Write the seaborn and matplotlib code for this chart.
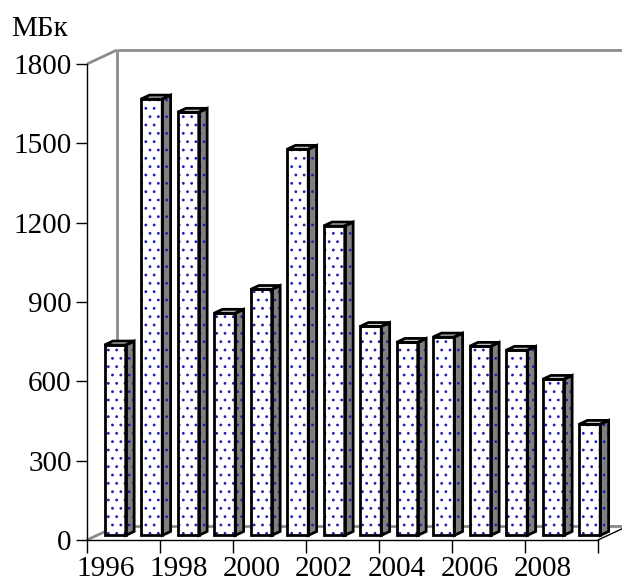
import numpy as np
import pandas as pd
import matplotlib
matplotlib.use("Agg")
import matplotlib.pyplot as plt
import seaborn as sns
from matplotlib.patches import Polygon, Rectangle
from matplotlib.lines import Line2D

# ---- data ----
years = [str(y) for y in range(1996, 2010)]
values = [720, 1650, 1600, 840, 930, 1460, 1170, 790, 730, 750, 715, 700, 590, 420]
y_ticks = [0, 300, 600, 900, 1200, 1500, 1800]
x_tick_labels = ["1996", "1998", "2000", "2002", "2004", "2006", "2008"]
unit_label = "МБк"

sns.set_theme(style="white")
plt.rcParams["font.family"] = ["Liberation Serif", "DejaVu Serif"]
plt.rcParams["hatch.linewidth"] = 0.8
plt.rcParams["hatch.color"] = "#2020b0"

W, H, DPI = 622, 588, 100
fig = plt.figure(figsize=(W / DPI, H / DPI), dpi=DPI)
L, R, B, T = 87, 598, 540, 64
ax = fig.add_axes([L / W, 1 - B / H, (R - L) / W, (B - T) / H])

df = pd.DataFrame({"year": years, "value": values})
sns.barplot(data=df, x="year", y="value", order=years, color="white",
            saturation=1, edgecolor="#2020b0", linewidth=0, hatch="..",
            width=0.58, ax=ax, zorder=3)

ax.set_xlim(-0.5, len(years) - 0.5)
ax.set_ylim(0, 1800)

# pixel -> data conversion for depth
px_x = (R - L) / len(years)
px_y = (B - T) / 1800.0
DX, DY = 30 / px_x, 14 / px_y          # full depth of the 3D box
f_front = 0.33                          # bar front plane depth fraction
bdx, bdy = 0.28 * DX, 0.28 * DY         # bar depth

wall = "#8c8c8c"
x0w, x1w = -0.5, len(years) - 0.5
kw = dict(color=wall, lw=2, zorder=0.5, clip_on=False, solid_capstyle="butt")
ax.add_line(Line2D([x0w + DX, x0w + DX], [DY, 1800 + DY], **kw))
ax.add_line(Line2D([x0w + DX, x1w + DX], [1800 + DY, 1800 + DY], **kw))
ax.add_line(Line2D([x0w + DX, x1w + DX], [DY, DY], **kw))
ax.add_line(Line2D([x0w, x0w + DX], [1800, 1800 + DY], **kw))
ax.add_line(Line2D([x0w, x0w + DX], [0, DY], **kw))
ax.add_line(Line2D([x1w, x1w + DX], [0, DY], color="black", lw=1,
                   zorder=0.6, clip_on=False))

# 3D bar faces built from seaborn's bars
for p in list(ax.patches):
    x0 = p.get_x() + f_front * DX
    y0 = f_front * DY
    w = p.get_width()
    h = p.get_height()
    p.set_x(x0)
    p.set_y(y0)
    p.set_clip_on(False)
    side = [(x0 + w, y0), (x0 + w + bdx, y0 + bdy),
            (x0 + w + bdx, y0 + h + bdy), (x0 + w, y0 + h)]
    top = [(x0, y0 + h), (x0 + w, y0 + h),
           (x0 + w + bdx, y0 + h + bdy), (x0 + bdx, y0 + h + bdy)]
    ax.add_patch(Polygon(side, closed=True, facecolor="#808080",
                         edgecolor="#2020b0", lw=0, hatch="..", zorder=3,
                         clip_on=False))
    ax.add_patch(Polygon(top, closed=True, facecolor="#d0d0d0",
                         edgecolor="none", zorder=3, clip_on=False))
    for poly in (side, top):
        ax.add_patch(Polygon(poly, closed=True, fill=False, edgecolor="black",
                             lw=2, joinstyle="miter", zorder=4, clip_on=False))
    ax.add_patch(Rectangle((x0, y0), w, h, fill=False, edgecolor="black",
                           lw=2, joinstyle="miter", zorder=4, clip_on=False))

# axes styling
for s in ("top", "right"):
    ax.spines[s].set_visible(False)
for s in ("left", "bottom"):
    ax.spines[s].set_color("black")
    ax.spines[s].set_linewidth(1)
    ax.spines[s].set_zorder(0.7)

ax.set_yticks(y_ticks)
ax.set_yticklabels([str(v) for v in y_ticks])
ax.tick_params(axis="y", direction="out", length=8, width=1, color="black",
               pad=3, labelsize=21, labelcolor="black", left=True)

ax.set_xticks(np.arange(-0.5, len(years), 2))
ax.set_xticklabels([""] * len(np.arange(-0.5, len(years), 2)))
ax.tick_params(axis="x", which="major", direction="out", length=9, width=1,
               color="black", bottom=True)
ax.set_xticks([years.index(t) for t in x_tick_labels], minor=True)
ax.set_xticklabels(x_tick_labels, minor=True)
ax.tick_params(axis="x", which="minor", length=0, pad=11.5, labelsize=21,
               labelcolor="black", bottom=True)

ax.set_xlabel("")
ax.set_ylabel("")
ax.patch.set_visible(False)

fig.text(11 / W, 1 - 36.5 / H, unit_label, fontsize=21, ha="left",
         va="baseline", color="black")

fig.savefig("out.png", dpi=DPI, facecolor="white")
